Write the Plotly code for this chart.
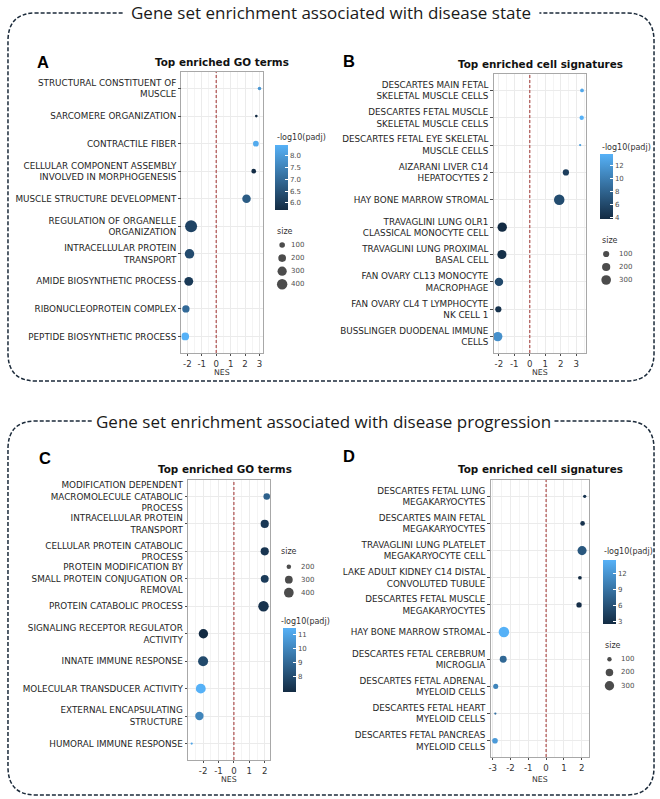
import numpy as np
import plotly.graph_objects as go

W, H = 660, 799
def px(x): return x / W
def py(y): return 1 - y / H

# ---------------- data ----------------
a_terms = ["STRUCTURAL CONSTITUENT OF<br>MUSCLE", "SARCOMERE ORGANIZATION", "CONTRACTILE FIBER",
           "CELLULAR COMPONENT ASSEMBLY<br>INVOLVED IN MORPHOGENESIS", "MUSCLE STRUCTURE DEVELOPMENT",
           "REGULATION OF ORGANELLE<br>ORGANIZATION", "INTRACELLULAR PROTEIN<br>TRANSPORT",
           "AMIDE BIOSYNTHETIC PROCESS", "RIBONUCLEOPROTEIN COMPLEX", "PEPTIDE BIOSYNTHETIC PROCESS"]
a_nes = [3.0, 2.78, 2.75, 2.6, 2.1, -1.74, -1.85, -1.9, -2.1, -2.15]
a_padj = [7.9, 5.7, 8.3, 5.75, 6.7, 6.2, 6.35, 6.0, 7.0, 8.45]
a_size = [53, 48, 104, 75, 251, 560, 321, 278, 176, 203]

b_terms = ["DESCARTES MAIN FETAL<br>SKELETAL MUSCLE CELLS", "DESCARTES FETAL MUSCLE<br>SKELETAL MUSCLE CELLS",
           "DESCARTES FETAL EYE SKELETAL<br>MUSCLE CELLS", "AIZARANI LIVER C14<br>HEPATOCYTES 2",
           "HAY BONE MARROW STROMAL", "TRAVAGLINI LUNG OLR1<br>CLASSICAL MONOCYTE CELL",
           "TRAVAGLINI LUNG PROXIMAL<br>BASAL CELL", "FAN OVARY CL13 MONOCYTE<br>MACROPHAGE",
           "FAN OVARY CL4 T LYMPHOCYTE<br>NK CELL 1", "BUSSLINGER DUODENAL IMMUNE<br>CELLS"]
b_nes = [3.37, 3.35, 3.25, 2.33, 1.9, -1.78, -1.8, -1.99, -2.03, -2.07]
b_padj = [13.0, 13.74, 12.3, 5.2, 6.2, 3.75, 4.1, 6.0, 4.3, 11.3]
b_size = [31, 43, 20, 103, 370, 281, 260, 216, 100, 281]

c_terms = ["MODIFICATION DEPENDENT<br>MACROMOLECULE CATABOLIC<br>PROCESS", "INTRACELLULAR PROTEIN<br>TRANSPORT",
           "CELLULAR PROTEIN CATABOLIC<br>PROCESS", "PROTEIN MODIFICATION BY<br>SMALL PROTEIN CONJUGATION OR<br>REMOVAL",
           "PROTEIN CATABOLIC PROCESS", "SIGNALING RECEPTOR REGULATOR<br>ACTIVITY", "INNATE IMMUNE RESPONSE",
           "MOLECULAR TRANSDUCER ACTIVITY", "EXTERNAL ENCAPSULATING<br>STRUCTURE", "HUMORAL IMMUNE RESPONSE"]
c_nes = [2.13, 2.0, 2.0, 2.0, 1.92, -1.98, -2.0, -2.15, -2.24, -2.74]
c_padj = [8.7, 7.3, 7.2, 7.4, 7.1, 6.85, 7.9, 11.41, 9.9, 11.0]
c_size = [253, 318, 318, 305, 450, 381, 420, 410, 331, 180]

d_terms = ["DESCARTES FETAL LUNG<br>MEGAKARYOCYTES", "DESCARTES MAIN FETAL<br>MEGAKARYOCYTES",
           "TRAVAGLINI LUNG PLATELET<br>MEGAKARYOCYTE CELL", "LAKE ADULT KIDNEY C14 DISTAL<br>CONVOLUTED TUBULE",
           "DESCARTES FETAL MUSCLE<br>MEGAKARYOCYTES", "HAY BONE MARROW STROMAL",
           "DESCARTES FETAL CEREBRUM<br>MICROGLIA", "DESCARTES FETAL ADRENAL<br>MYELOID CELLS",
           "DESCARTES FETAL HEART<br>MYELOID CELLS", "DESCARTES FETAL PANCREAS<br>MYELOID CELLS"]
d_nes = [2.17, 2.05, 2.02, 1.9, 1.85, -2.37, -2.41, -2.83, -2.85, -2.87]
d_padj = [3.5, 3.3, 6.5, 2.6, 2.9, 14.5, 8.0, 10.5, 8.8, 12.5]
d_size = [84, 105, 283, 89, 121, 375, 174, 114, 80, 129]

a_cbticks = [6.0, 6.5, 7.0, 7.5, 8.0]
b_cbticks = [4, 6, 8, 10, 12]
c_cbticks = [8, 9, 10, 11]
d_cbticks = [3, 6, 9, 12]
a_breaks = [100, 200, 300, 400]
b_breaks = [100, 200, 300]
c_breaks = [200, 300, 400]
d_breaks = [100, 200, 300]

header_top = "Gene set enrichment associated with disease state"
header_bottom = "Gene set enrichment associated with disease progression"
go_title = "Top enriched GO terms"
cell_title = "Top enriched cell signatures"

# ---------------- styling / layout geometry ----------------
SCALE = [[0, "#132B43"], [1, "#56B1F7"]]
LBL_FONT = "DejaVu Sans"

panels = [
    dict(letter="A", terms=a_terms, nes=a_nes, padj=a_padj, size=a_size, cbt=a_cbticks, brk=a_breaks,
         f=2.0, dx=(180, 262), dy=(72, 353), title=go_title, txy=(220.7, 61.7), lxy=(41.5, 61.5),
         cb=(274, 145, 65), cbtitle=(274, 137.5), stitle=(274, 231.7), sl=(281, 287.5, 245, 13.1),
         nes_y=372, cbfmt="{:.1f}"),
    dict(letter="B", terms=b_terms, nes=b_nes, padj=b_padj, size=b_size, cbt=b_cbticks, brk=b_breaks,
         f=1.75, dx=(493, 586), dy=(74, 353), title=cell_title, txy=(540, 64), lxy=(348, 61),
         cb=(600, 154, 65), cbtitle=(600, 147), stitle=(600, 240), sl=(606, 617, 254, 13.0),
         nes_y=372, cbfmt="{:d}"),
    dict(letter="C", terms=c_terms, nes=c_nes, padj=c_padj, size=c_size, cbt=c_cbticks, brk=c_breaks,
         f=1.75, dx=(186.5, 269.3), dy=(480, 760), title=go_title, txy=(224, 469.3), lxy=(43.5, 457.5),
         cb=(281.7, 628.3, 63.5), cbtitle=(278, 621.7), stitle=(277.7, 551.7), sl=(287.7, 298.3, 566.7, 13.0),
         nes_y=779.5, cbfmt="{:d}"),
    dict(letter="D", terms=d_terms, nes=d_nes, padj=d_padj, size=d_size, cbt=d_cbticks, brk=d_breaks,
         f=1.75, dx=(490, 589), dy=(480, 757), title=cell_title, txy=(540, 469.3), lxy=(348.5, 456),
         cb=(602.7, 560, 64), cbtitle=(602, 551.7), stitle=(602.7, 645.7), sl=(609.3, 619.3, 659.3, 13.2),
         nes_y=779.5, cbfmt="{:d}"),
]


def diam(v, lo, hi, f):
    t = (np.asarray(v, dtype=float) - lo) / (hi - lo)
    return f * (1.3 + 4.7 * np.sqrt(np.clip(t, 0, 1)))


fig = go.Figure()
layout = dict(width=W, height=H, margin=dict(l=0, r=0, t=0, b=0),
              paper_bgcolor="white", plot_bgcolor="white", showlegend=False)
shapes, annotations = [], []

for i, p in enumerate(panels):
    n_ax = i + 1
    s = "" if n_ax == 1 else str(n_ax)
    ls = str(n_ax + 4)
    lo, hi = min(p["size"]), max(p["size"])
    xmin, xmax = min(p["nes"]), max(p["nes"])
    pad = 0.05 * (xmax - xmin)
    xr = [xmin - pad, xmax + pad]
    xt = list(range(int(np.ceil(xr[0])), int(np.floor(xr[1])) + 1))
    n = len(p["terms"])
    cax = "coloraxis" + s

    fig.add_trace(go.Scatter(
        x=p["nes"], y=p["terms"], mode="markers", xaxis="x" + s, yaxis="y" + s,
        marker=dict(size=diam(p["size"], lo, hi, p["f"]), color=p["padj"], coloraxis=cax,
                    line=dict(width=0), opacity=1),
        hoverinfo="x+y"))

    layout["xaxis" + s] = dict(
        domain=[px(p["dx"][0]), px(p["dx"][1])], anchor="y" + s, range=xr,
        tickvals=xt, ticktext=[str(v) for v in xt],
        showgrid=True, gridcolor="#EBEBEB", gridwidth=0.8,
        minor=dict(dtick=0.5, tick0=0, showgrid=True, gridcolor="#F4F4F4", gridwidth=0.5),
        ticks="outside", ticklen=2.5, tickwidth=0.7, tickcolor="#4d4d4d",
        tickfont=dict(family=LBL_FONT, size=8.6, color="#333333"),
        showline=True, linecolor="#A8A8A8", linewidth=0.8, mirror=True, zeroline=False, fixedrange=True)
    layout["yaxis" + s] = dict(
        domain=[py(p["dy"][1]), py(p["dy"][0])], anchor="x" + s, type="category",
        categoryorder="array", categoryarray=p["terms"], range=[n - 1 + 0.6, -0.6],
        showgrid=True, gridcolor="#EBEBEB", gridwidth=0.8,
        ticks="outside", ticklen=2.5, tickwidth=0.7, tickcolor="#4d4d4d",
        tickfont=dict(family=LBL_FONT, size=8.8, color="#262626"),
        showline=True, linecolor="#A8A8A8", linewidth=0.8, mirror=True, zeroline=False, fixedrange=True)

    cbx, cbtop, cblen = p["cb"]
    layout[cax] = dict(
        colorscale=SCALE, cmin=min(p["padj"]), cmax=max(p["padj"]),
        colorbar=dict(x=px(cbx), xanchor="left", y=py(cbtop), yanchor="top",
                      len=cblen, lenmode="pixels", thickness=12.5, thicknessmode="pixels",
                      xpad=0, ypad=0, outlinewidth=0,
                      tickvals=p["cbt"], ticktext=[p["cbfmt"].format(v) for v in p["cbt"]],
                      ticks="inside", ticklen=3, tickcolor="white", tickwidth=0.8,
                      tickfont=dict(family=LBL_FONT, size=7, color="#4d4d4d"),
                      title=dict(text="")))
    annotations.append(dict(text="-log10(padj)", x=px(p["cbtitle"][0]), y=py(p["cbtitle"][1]),
                            xref="paper", yref="paper", xanchor="left", yanchor="middle", showarrow=False,
                            font=dict(family=LBL_FONT, size=8, color="#333333")))

    cx, lx, row0, sp = p["sl"]
    nb = len(p["brk"])
    u = lx - cx
    layout["xaxis" + ls] = dict(domain=[px(cx - 8), px(lx + 25)], range=[-8 / u, (lx + 25 - cx) / u],
                                visible=False, fixedrange=True, anchor="y" + ls)
    layout["yaxis" + ls] = dict(domain=[py(row0 + (nb - 0.5) * sp), py(row0 - 0.5 * sp)],
                                range=[nb - 0.5, -0.5], visible=False, fixedrange=True, anchor="x" + ls)
    fig.add_trace(go.Scatter(
        x=[0] * nb, y=list(range(nb)), mode="markers", xaxis="x" + ls, yaxis="y" + ls,
        marker=dict(size=diam(p["brk"], lo, hi, p["f"]), color="black", line=dict(width=0)),
        hoverinfo="skip"))
    for j, b in enumerate(p["brk"]):
        annotations.append(dict(text=str(b), x=1, y=j, xref="x" + ls, yref="y" + ls,
                                xanchor="left", yanchor="middle", showarrow=False,
                                font=dict(family=LBL_FONT, size=7, color="#4d4d4d")))
    annotations.append(dict(text="size", x=px(p["stitle"][0]), y=py(p["stitle"][1]),
                            xref="paper", yref="paper", xanchor="left", yanchor="middle", showarrow=False,
                            font=dict(family=LBL_FONT, size=8, color="#333333")))

    shapes.append(dict(type="line", xref="x" + s, yref="y" + s + " domain", x0=0, x1=0, y0=0, y1=1,
                       layer="above", line=dict(color="#A8403E", width=1.1, dash="3px,2px")))

    annotations.append(dict(text="<b>" + p["title"] + "</b>", x=px(p["txy"][0]), y=py(p["txy"][1]),
                            xref="paper", yref="paper", xanchor="center", yanchor="middle", showarrow=False,
                            font=dict(family=LBL_FONT, size=10.4, color="#111111")))
    annotations.append(dict(text="<b>" + p["letter"] + "</b>", x=px(p["lxy"][0]), y=py(p["lxy"][1]),
                            xref="paper", yref="paper", xanchor="center", yanchor="middle", showarrow=False,
                            font=dict(family="Liberation Sans", size=16.5, color="#000000")))
    annotations.append(dict(text="NES", x=px((p["dx"][0] + p["dx"][1]) / 2), y=py(p["nes_y"]),
                            xref="paper", yref="paper", xanchor="center", yanchor="middle", showarrow=False,
                            font=dict(family=LBL_FONT, size=7.8, color="#333333")))


def box_path(l, t, r, b, gl, gr, rad):
    pts = lambda x, y: f"{px(x):.5f},{py(y):.5f}"
    return (f"M {pts(gl, t)} L {pts(l + rad, t)} Q {pts(l, t)} {pts(l, t + rad)} "
            f"L {pts(l, b - rad)} Q {pts(l, b)} {pts(l + rad, b)} "
            f"L {pts(r - rad, b)} Q {pts(r, b)} {pts(r, b - rad)} "
            f"L {pts(r, t + rad)} Q {pts(r, t)} {pts(r - rad, t)} L {pts(gr, t)}")


box_line = dict(color="#1B2A3A", width=1.5, dash="4px,2px")
shapes.append(dict(type="path", xref="paper", yref="paper", path=box_path(6, 13, 654, 381, 121, 539, 28),
                   line=box_line, layer="above"))
shapes.append(dict(type="path", xref="paper", yref="paper", path=box_path(6, 421, 654, 795, 90, 554, 28),
                   line=box_line, layer="above"))
annotations.append(dict(text=header_top, x=px(330), y=py(13), xref="paper", yref="paper",
                        xanchor="center", yanchor="middle", showarrow=False,
                        font=dict(family="Open Sans", size=17, color="#1a1a1a")))
annotations.append(dict(text=header_bottom, x=px(322), y=py(421), xref="paper", yref="paper",
                        xanchor="center", yanchor="middle", showarrow=False,
                        font=dict(family="Open Sans", size=17, color="#1a1a1a")))

layout["shapes"] = shapes
layout["annotations"] = annotations
fig.update_layout(**layout)
fig.write_html("out.html", config={"displayModeBar": False},
               post_script="document.body.style.margin='0px';")
